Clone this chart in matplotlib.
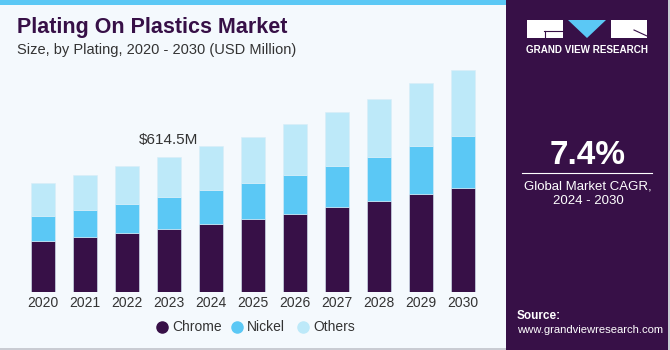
import numpy as np
import matplotlib
matplotlib.use("Agg")
import matplotlib.pyplot as plt
from matplotlib.patches import Rectangle, Polygon
from matplotlib.lines import Line2D

years = ["2020", "2021", "2022", "2023", "2024", "2025", "2026", "2027", "2028", "2029", "2030"]
chrome = [231.2, 249.4, 267.7, 287.5, 310.3, 331.6, 357.4, 386.3, 413.7, 447.2, 476.1]
nickel = [117.1, 124.7, 133.8, 144.5, 155.1, 164.3, 176.4, 188.6, 202.3, 217.5, 232.7]
others = [149.1, 161.2, 171.9, 182.5, 199.3, 211.4, 229.7, 246.4, 264.7, 286.0, 304.2]
series_names = ["Chrome", "Nickel", "Others"]
colors = ["#371047", "#5bc8f5", "#bde9f9"]
callout_year = "2023"
callout_text = "$614.5M"
cagr = "7.4%"

W, H = 670, 350
BG = "#f4f9fd"
PURPLE = "#371047"

plt.rcParams["font.family"] = ["Liberation Sans", "DejaVu Sans"]

fig = plt.figure(figsize=(W / 100, H / 100), dpi=100)
fig.patch.set_facecolor(BG)


def fx(px):
    return px / W


def fy(py):
    return 1 - py / H


# top accent bar and right panel
fig.add_artist(Rectangle((0, fy(5)), fx(506), 5 / H, transform=fig.transFigure,
                         facecolor="#5bc8f5", edgecolor="none"))
fig.add_artist(Rectangle((fx(506), 0), fx(162), 1, transform=fig.transFigure,
                         facecolor=PURPLE, edgecolor="none"))
fig.add_artist(Rectangle((fx(668), 0), fx(2), 1, transform=fig.transFigure,
                         facecolor="#c9ccd3", edgecolor="none"))
fig.add_artist(Rectangle((0, 0), fx(506), 2 / H, transform=fig.transFigure,
                         facecolor="#c9ccd3", edgecolor="none"))

# gradient at bottom of right panel
gax = fig.add_axes([fx(506), 0, fx(162), 70 / H])
grad = np.linspace(0, 1, 100)[:, None] ** 1.6
c0 = np.array(matplotlib.colors.to_rgb(PURPLE))
c1 = np.array(matplotlib.colors.to_rgb("#6a9fd0"))
img = c0 + (c1 - c0) * grad[..., None] * np.ones((1, 50, 1))
gax.imshow(img, aspect="auto", origin="upper", extent=(0, 1, 0, 1))
for k in np.linspace(0, 1, 14):
    gax.plot([k, 0.5 + (k - 0.5) * 2.2], [0.75, 0], color="white", alpha=0.12, lw=0.5)
for k in [0.1, 0.25, 0.42, 0.6]:
    gax.axhline(k, color="white", alpha=0.12, lw=0.5)
gax.set_xlim(0, 1)
gax.set_ylim(0, 1)
gax.axis("off")

# main bars
ax = fig.add_axes([fx(21), 58 / H, fx(485) - fx(21), 241.4 / H])
ax.set_facecolor(BG)
x = np.arange(len(years))
bottom = np.zeros(len(years))
for name, vals, col in zip(series_names, [chrome, nickel, others], colors):
    ax.bar(x, vals, width=0.57, bottom=bottom, color=col, label=name, zorder=2,
           edgecolor="#d8eef8", linewidth=0.4)
    bottom += np.array(vals)
ax.set_xlim(-0.52, 10.53)
ax.set_ylim(0, 1100)
ax.set_xticks(x)
ax.set_xticklabels(years, fontsize=10, color="#333333")
ax.tick_params(axis="x", length=0, pad=3)
ax.set_yticks([])
for s in ax.spines.values():
    s.set_visible(False)

i = years.index(callout_year)
ax.text(i, bottom[i] + 45, callout_text, ha="center", va="bottom", fontsize=11, color="#333333")

# titles
fig.text(fx(17), fy(27), "Plating On Plastics Market", fontsize=15.5, fontweight="bold",
         color=PURPLE, va="center", ha="left")
fig.text(fx(17), fy(50), "Size, by Plating, 2020 - 2030 (USD Million)", fontsize=10.5,
         color="#333333", va="center", ha="left")

# legend (placed item by item)
legend_marker_x = [162, 237, 303]
for name, col, mx in zip(series_names, colors, legend_marker_x):
    fig.add_artist(Line2D([fx(mx)], [fy(327)], transform=fig.transFigure, marker="o",
                          ls="none", markersize=8, markerfacecolor=col, markeredgecolor=col))
    fig.text(fx(mx + 10), fy(327), name, fontsize=10, color="#333333", ha="left", va="center")

# logo
fig.add_artist(Rectangle((fx(527), fy(38)), fx(36), 18 / H, transform=fig.transFigure,
                         facecolor="white", edgecolor="none"))
fig.add_artist(Polygon([(fx(568), fy(20)), (fx(606), fy(20)), (fx(587), fy(38))],
                       transform=fig.transFigure, facecolor="#5bc8f5", edgecolor="none"))
fig.add_artist(Rectangle((fx(611), fy(38)), fx(36), 18 / H, transform=fig.transFigure,
                         facecolor="white", edgecolor="none"))
fig.add_artist(Line2D([fx(544), fx(563)], [fy(31), fy(31)], transform=fig.transFigure,
                      color=PURPLE, lw=0.8))
fig.add_artist(Line2D([fx(545), fx(545)], [fy(31), fy(38)], transform=fig.transFigure,
                      color=PURPLE, lw=0.8))
fig.add_artist(Line2D([fx(634), fx(647)], [fy(30), fy(36)], transform=fig.transFigure,
                      color=PURPLE, lw=0.8))
fig.text(fx(587), fy(50), "GRAND VIEW RESEARCH", fontsize=7.1, fontweight="bold",
         color="white", ha="center", va="center")

# CAGR
fig.text(fx(588), fy(155), cagr, fontsize=24, fontweight="bold", color="white",
         ha="center", va="center")
fig.add_artist(Line2D([fx(522), fx(652)], [fy(173), fy(173)], transform=fig.transFigure,
                      color="white", lw=0.8))
fig.text(fx(588), fy(186), "Global Market CAGR,", fontsize=9.5, color="white",
         ha="center", va="center")
fig.text(fx(588), fy(201), "2024 - 2030", fontsize=9.5, color="white",
         ha="center", va="center")

# source
fig.text(fx(517), fy(316), "Source:", fontsize=8.5, fontweight="bold", color="white",
         ha="left", va="center")
fig.text(fx(517), fy(330), "www.grandviewresearch.com", fontsize=8.1, color="white",
         ha="left", va="center")

fig.savefig("out.png", dpi=100, facecolor=fig.get_facecolor())
